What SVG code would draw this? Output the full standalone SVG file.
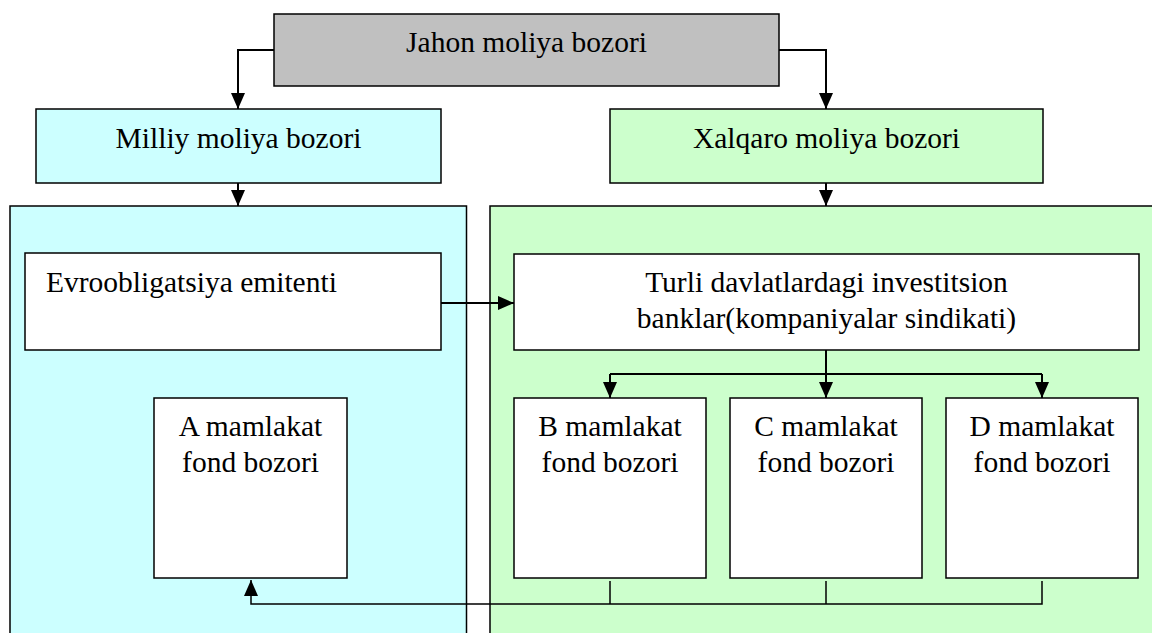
<svg xmlns="http://www.w3.org/2000/svg" width="1152" height="633" viewBox="0 0 1152 633">
<style>
.box{stroke:#000;stroke-width:1.5}
.t{font-family:"Liberation Serif","Times New Roman",serif;font-size:29.5px;fill:#000;text-anchor:middle}
.c{fill:none;stroke:#000;stroke-width:2}
.c2{fill:none;stroke:#000;stroke-width:1.5}
</style>
<defs>
<marker id="ah" viewBox="0 0 16 14" refX="16" refY="7" markerWidth="16" markerHeight="14" markerUnits="userSpaceOnUse" orient="auto">
<path d="M0,0 L16,7 L0,14 z" fill="#000"/>
</marker>
</defs>
<rect width="1152" height="633" fill="#fff"/>
<g id="milliy-area"><rect class="box" x="10" y="206" width="456.5" height="450" fill="#ccffff"/></g>
<g id="xalqaro-area"><rect class="box" x="490" y="206" width="700" height="450" fill="#ccffcc"/></g>
<g id="jahon"><rect class="box" x="274" y="14" width="505" height="72" fill="#c0c0c0"/><text class="t" x="526.5" y="52">Jahon moliya bozori</text></g>
<g id="milliy"><rect class="box" x="36" y="109" width="405" height="74" fill="#ccffff"/><text class="t" x="238.5" y="148">Milliy moliya bozori</text></g>
<g id="xalqaro"><rect class="box" x="610" y="109" width="433" height="74" fill="#ccffcc"/><text class="t" x="826.5" y="148">Xalqaro moliya bozori</text></g>
<g id="evro"><rect class="box" x="25" y="253" width="416" height="97" fill="#fff"/><text class="t" x="46" y="292" style="text-anchor:start">Evroobligatsiya emitenti</text></g>
<g id="turli"><rect class="box" x="514" y="254" width="625" height="96" fill="#fff"/><text class="t" x="826.5" y="292">Turli davlatlardagi investitsion</text><text class="t" x="826.5" y="328">banklar(kompaniyalar sindikati)</text></g>
<g id="a-fond"><rect class="box" x="154" y="398" width="193" height="180" fill="#fff"/><text class="t" x="250.5" y="436">A mamlakat</text><text class="t" x="250.5" y="472">fond bozori</text></g>
<g id="b-fond"><rect class="box" x="514" y="398" width="192" height="180" fill="#fff"/><text class="t" x="610" y="436">B mamlakat</text><text class="t" x="610" y="472">fond bozori</text></g>
<g id="c-fond"><rect class="box" x="730" y="398" width="192" height="180" fill="#fff"/><text class="t" x="826" y="436">C mamlakat</text><text class="t" x="826" y="472">fond bozori</text></g>
<g id="d-fond"><rect class="box" x="946" y="398" width="192" height="180" fill="#fff"/><text class="t" x="1042" y="436">D mamlakat</text><text class="t" x="1042" y="472">fond bozori</text></g>
<g id="connectors">
<path class="c" d="M274,50 H238 V109" marker-end="url(#ah)"/>
<path class="c" d="M779,50 H826 V109" marker-end="url(#ah)"/>
<path class="c" d="M238,183 V206" marker-end="url(#ah)"/>
<path class="c" d="M826,183 V206" marker-end="url(#ah)"/>
<path class="c" d="M441,303 H514" marker-end="url(#ah)"/>
<path class="c" d="M826,350 V398" marker-end="url(#ah)"/>
<path class="c" d="M610,374 H1042"/>
<path class="c" d="M610,374 V398" marker-end="url(#ah)"/>
<path class="c" d="M1042,374 V398" marker-end="url(#ah)"/>
<path class="c2" d="M610,581 V604"/>
<path class="c2" d="M826,581 V604"/>
<path class="c2" d="M1042,581 V604 H251 V580" marker-end="url(#ah)"/>
</g>
</svg>
